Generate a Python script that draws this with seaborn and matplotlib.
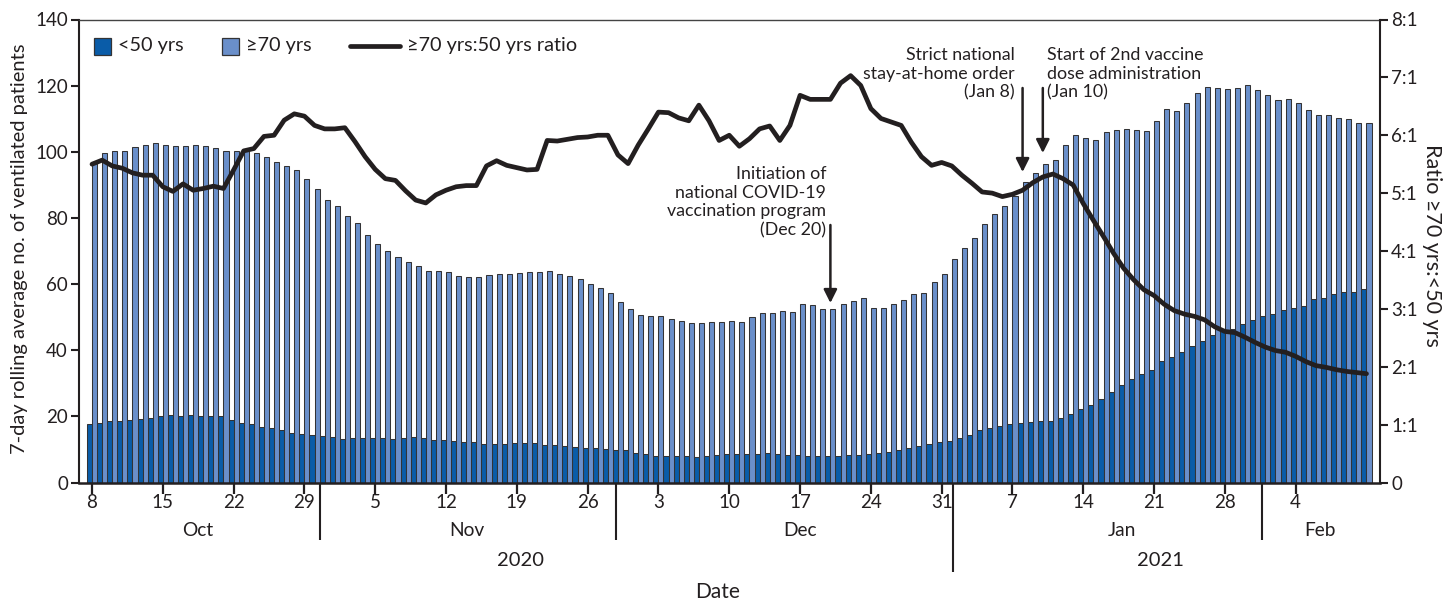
import numpy as np
import pandas as pd
import matplotlib
matplotlib.use("Agg")
import matplotlib.pyplot as plt
import matplotlib.transforms as mtransforms
from matplotlib.patches import Rectangle
from matplotlib.lines import Line2D
import seaborn as sns

# ---------------- data ----------------
dates = pd.date_range("2020-10-08", "2021-02-11", freq="D")

under50 = [
    17.8, 17.9, 18.5, 18.6, 19.0, 19.3, 19.5, 20.2, 20.4, 20.0, 20.4, 20.2, 20.0, 20.0, 19.0, 18.0, 17.8, 16.8, 16.5, 15.8, 15.0,
    14.8, 14.5, 14.0, 13.9, 13.3, 13.6, 13.5, 13.5, 13.6, 13.3, 13.5, 13.7, 13.5, 13.0, 12.8, 12.4, 12.3, 12.3, 11.7, 11.6, 11.7,
    12.0, 12.0, 12.0, 11.3, 11.2, 11.0, 10.8, 10.5, 10.3, 10.0, 9.9, 9.8, 9.0, 8.5, 8.1, 7.9, 7.9, 7.9, 7.7, 7.9, 8.4,
    8.6, 8.6, 8.6, 8.6, 8.9, 8.6, 8.3, 8.3, 8.1, 8.1, 7.9, 8.1, 8.3, 8.4, 8.6, 8.9, 9.2, 9.9, 10.4, 11.1, 11.6, 12.2,
    12.5, 13.5, 14.5, 16.0, 16.5, 17.2, 17.8, 18.1, 18.3, 18.5, 18.5, 19.5, 20.8, 22.3, 23.3, 25.3, 27.4, 29.6, 31.3, 32.8, 34.1,
    36.6, 37.8, 39.4, 41.4, 42.8, 44.7, 46.4, 46.4, 47.9, 49.2, 50.2, 51.0, 52.2, 52.7, 53.5, 55.4, 55.9, 56.9, 57.5, 57.7, 58.5,
]

over70 = [
    96.5, 99.7, 100.2, 100.3, 101.3, 102.0, 102.8, 102.0, 101.7, 101.8, 102.0, 101.7, 101.0, 100.3, 100.3, 100.4, 99.7, 98.3, 96.8, 95.6, 94.4,
    91.7, 88.6, 85.4, 83.7, 80.6, 78.6, 74.8, 72.2, 70.0, 68.1, 66.6, 65.6, 64.0, 64.0, 63.5, 62.5, 62.0, 62.0, 62.8, 62.9, 62.9,
    63.3, 63.6, 63.8, 64.1, 62.9, 62.5, 61.5, 60.0, 58.9, 57.2, 54.5, 52.6, 50.6, 50.4, 50.2, 49.5, 48.7, 48.2, 48.2, 48.4, 48.5,
    48.7, 48.5, 49.9, 51.2, 51.4, 51.9, 51.7, 54.0, 53.7, 52.4, 52.4, 53.9, 54.9, 55.8, 52.9, 52.9, 54.1, 55.3, 56.9, 57.3, 60.6, 63.1,
    67.6, 71.0, 74.0, 78.1, 81.1, 83.6, 86.6, 90.9, 93.7, 96.2, 97.5, 102.0, 105.1, 104.3, 103.5, 106.0, 106.7, 106.8, 106.7, 106.3, 109.3,
    112.8, 112.3, 114.9, 117.9, 119.6, 119.4, 119.0, 119.3, 120.1, 118.6, 117.1, 115.6, 116.0, 114.9, 112.6, 111.2, 111.0, 110.2, 109.8, 108.8, 108.8,
]

ratio = [
    5.50, 5.57, 5.47, 5.43, 5.35, 5.31, 5.31, 5.11, 5.03, 5.16, 5.05, 5.08, 5.12, 5.08, 5.40, 5.73, 5.77, 5.98, 6.00, 6.26, 6.37,
    6.33, 6.17, 6.11, 6.11, 6.13, 5.89, 5.63, 5.41, 5.25, 5.22, 5.04, 4.88, 4.83, 4.97, 5.05, 5.11, 5.13, 5.13, 5.47, 5.56, 5.48,
    5.44, 5.40, 5.41, 5.91, 5.90, 5.93, 5.96, 5.97, 6.00, 6.00, 5.66, 5.51, 5.83, 6.11, 6.40, 6.39, 6.30, 6.25, 6.52, 6.25, 5.91,
    6.00, 5.81, 5.94, 6.11, 6.16, 5.91, 6.17, 6.69, 6.62, 6.62, 6.62, 6.90, 7.03, 6.86, 6.46, 6.29, 6.23, 6.17, 5.88, 5.63, 5.48, 5.53,
    5.47, 5.31, 5.17, 5.02, 5.00, 4.94, 4.98, 5.05, 5.18, 5.28, 5.33, 5.25, 5.14, 4.82, 4.53, 4.25, 3.96, 3.70, 3.50, 3.33, 3.23, 3.08,
    2.97, 2.91, 2.87, 2.81, 2.69, 2.61, 2.59, 2.51, 2.42, 2.34, 2.28, 2.25, 2.18, 2.09, 2.02, 1.99, 1.95, 1.92, 1.90, 1.88,
]

series_names = ["<50 yrs", "\u226570 yrs"]
ratio_name = "\u226570 yrs:50 yrs ratio"
x_tick_labels = ["8", "15", "22", "29", "5", "12", "19", "26", "3", "10", "17", "24", "31", "7", "14", "21", "28", "4"]
month_labels = ["Oct", "Nov", "Dec", "Jan", "Feb"]
year_labels = ["2020", "2021"]
left_ticks = [0, 20, 40, 60, 80, 100, 120, 140]
right_ticks = [0, 1, 2, 3, 4, 5, 6, 7, 8]
right_tick_labels = ["0", "1:1", "2:1", "3:1", "4:1", "5:1", "6:1", "7:1", "8:1"]

events = [
    ("2020-12-20", "Initiation of\nnational COVID-19\nvaccination program\n(Dec 20)"),
    ("2021-01-08", "Strict national\nstay-at-home order\n(Jan 8)"),
    ("2021-01-10", "Start of 2nd vaccine\ndose administration\n(Jan 10)"),
]

# ---------------- style ----------------
DARK = "#0A5CA8"
LIGHT = "#6A8FCA"
INK = "#231F20"
EDGE = "#333335"

sns.set_theme(style="white")
plt.rcParams["font.family"] = ["Lato", "DejaVu Sans"]
plt.rcParams["text.color"] = INK
plt.rcParams["axes.labelcolor"] = INK

W, H = 1455, 606
fig = plt.figure(figsize=(W / 100, H / 100), dpi=100)

AX_L, AX_R, AX_T, AX_B = 79, 1380, 19.5, 482.5
ax = fig.add_axes([AX_L / W, 1 - AX_B / H, (AX_R - AX_L) / W, (AX_B - AX_T) / H])

n = len(dates)
idx = np.arange(n)
df = pd.DataFrame({
    "i": np.concatenate([idx, idx]),
    "value": under50 + over70,
    "group": [series_names[0]] * n + [series_names[1]] * n,
})

sns.barplot(data=df, x="i", y="value", hue="group", hue_order=series_names,
            palette=[DARK, LIGHT], width=1.0, dodge=True, errorbar=None,
            saturation=1, edgecolor=EDGE, linewidth=0.75, legend=False, ax=ax)

ax2 = ax.twinx()
sns.lineplot(x=idx, y=ratio, ax=ax2, color=INK, linewidth=3.4, legend=False)

# pixel scale helpers for layout
X0_PX, DX_PX = 92.0, 10.115
xmin = (AX_L - X0_PX) / DX_PX
xmax = (AX_R - X0_PX) / DX_PX
for a in (ax, ax2):
    a.set_xlim(xmin, xmax)
ax.set_ylim(0, 140)
ax2.set_ylim(0, 8)

# spines
for a in (ax, ax2):
    for s in a.spines.values():
        s.set_visible(False)
ax.spines["left"].set_visible(True)
ax.spines["bottom"].set_visible(True)
ax.spines["top"].set_visible(True)
ax2.spines["right"].set_visible(True)
ax.spines["left"].set_linewidth(1.5)
ax.spines["bottom"].set_linewidth(1.8)
ax.spines["top"].set_linewidth(1.0)
ax.spines["top"].set_color("#444444")
ax2.spines["right"].set_linewidth(1.5)
for s in ("left", "bottom"):
    ax.spines[s].set_color(INK)
ax2.spines["right"].set_color(INK)

# ticks
TICK_FS = 13.5
tick_pos = idx[:120:7]
ax.set_xticks(tick_pos)
ax.set_xticklabels(x_tick_labels)
ax.set_yticks(left_ticks)
ax.set_yticklabels([str(t) for t in left_ticks])
ax2.set_yticks(right_ticks)
ax2.set_yticklabels(right_tick_labels)
ax.tick_params(axis="x", direction="out", length=8, width=1.6, color=INK, labelsize=TICK_FS,
               labelcolor=INK, pad=0.5, bottom=True)
ax.tick_params(axis="y", direction="out", length=6, width=1.5, color=INK, labelsize=TICK_FS,
               labelcolor=INK, pad=2, left=True)
ax2.tick_params(axis="y", direction="out", length=6, width=1.5, color=INK, labelsize=TICK_FS,
                labelcolor=INK, pad=2, right=True)
ax.set_xlabel("")
ax.set_ylabel("")
ax2.set_xlabel("")
ax2.set_ylabel("")

# month / year structure below the axis
blend = mtransforms.blended_transform_factory(ax.transData, ax.transAxes)
ax_h_px = AX_B - AX_T


def yfrac(ypx):
    return (AX_B - ypx) / ax_h_px


def xdata(xpx):
    return (xpx - X0_PX) / DX_PX


sep_px = [(320, 540), (616, 540), (952.5, 572), (1262, 540)]
for xp, yend in sep_px:
    ax.plot([xdata(xp)] * 2, [0, yfrac(yend)], transform=blend, color=INK, lw=1.5,
            clip_on=False, solid_capstyle="butt")

month_x_px = [198, 467, 800, 1122, 1320]
for lab, xp in zip(month_labels, month_x_px):
    ax.text(xdata(xp), yfrac(530), lab, transform=blend, ha="center", va="center",
            fontsize=13.8, color=INK)
year_x_px = [520, 1160]
for lab, xp in zip(year_labels, year_x_px):
    ax.text(xdata(xp), yfrac(561), lab, transform=blend, ha="center", va="center",
            fontsize=14.5, color=INK)
ax.text(xdata(718), yfrac(592), "Date", transform=blend, ha="center", va="center",
        fontsize=15, color=INK)

# axis titles
fig.text(20 / W, 1 - 249 / H, "7-day rolling average no. of ventilated patients",
         rotation=90, ha="center", va="center", fontsize=14.5, color=INK)
fig.text(1432 / W, 1 - 245 / H, "Ratio \u226570 yrs:<50 yrs",
         rotation=270, ha="center", va="center", fontsize=15.5, color=INK)

# legend (drawn manually)
def fxy(xp, yp):
    return xp / W, 1 - yp / H


sq = 17
LEG_FS = 14.3
for xp, col in ((94, DARK), (222, LIGHT)):
    x0, y0 = fxy(xp, 46 + sq / 2)
    fig.patches.append(Rectangle((x0, y0), sq / W, sq / H, transform=fig.transFigure,
                                 facecolor=col, edgecolor=EDGE, linewidth=0.9))
fig.text(*fxy(118, 46), series_names[0], ha="left", va="center", fontsize=LEG_FS, color=INK)
fig.text(*fxy(246, 46), series_names[1], ha="left", va="center", fontsize=LEG_FS, color=INK)
fig.lines.append(Line2D([350 / W, 400 / W], [1 - 46 / H] * 2, transform=fig.transFigure,
                        color=INK, linewidth=3.4))
fig.text(*fxy(407, 46), ratio_name, ha="left", va="center", fontsize=LEG_FS, color=INK)

# event annotations
date_index = {d.strftime("%Y-%m-%d"): k for k, d in enumerate(dates)}


def yval(ypx):
    return (AX_B - ypx) / ax_h_px * 140


arrow_spec = {
    "2020-12-20": (225, 303),
    "2021-01-08": (88, 172),
    "2021-01-10": (88, 153),
}
text_spec = {
    "2020-12-20": (826, 202, "right"),
    "2021-01-08": (1015, 74, "right"),
    "2021-01-10": (1047, 74, "left"),
}
for d, label in events:
    k = date_index[d]
    y_tail, y_tip = arrow_spec[d]
    ax.annotate("", xy=(k, yval(y_tip)), xytext=(k, yval(y_tail)),
                arrowprops=dict(arrowstyle="-|>", color=INK, lw=1.8, mutation_scale=20,
                                shrinkA=0, shrinkB=0), zorder=6)
    xp, yp, ha = text_spec[d]
    ax.text(xdata(xp), yval(yp), label, ha=ha, va="center", multialignment=ha,
            fontsize=12.8, color=INK, linespacing=1.2, zorder=6)

ax2.set_zorder(ax.get_zorder() + 1)
ax2.patch.set_visible(False)

fig.savefig("out.png", dpi=100)
